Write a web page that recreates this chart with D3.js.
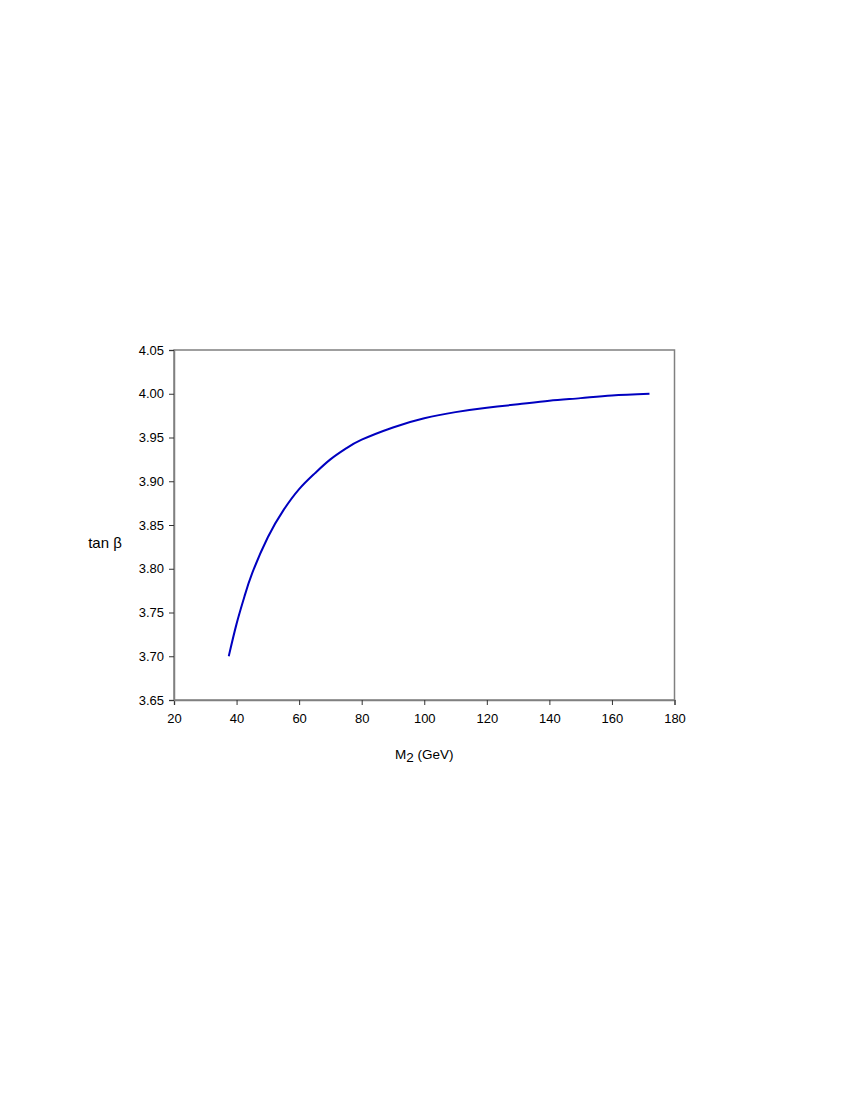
<!DOCTYPE html>
<html>
<head>
<meta charset="utf-8">
<script src="https://cdn.jsdelivr.net/npm/d3@7"></script>
<style>
html,body{margin:0;padding:0;background:#fff;}
svg text{font-family:"Liberation Sans",Arial,sans-serif;fill:#000;}
</style>
</head>
<body>
<svg id="chart" width="850" height="1100"></svg>
<script>
const m2Values = [37.5, 40, 42.5, 45, 50, 55, 60, 65, 70, 75, 80, 90, 100, 110, 120, 130, 140, 150, 160, 172];
const tanBetaValues = [3.700, 3.737, 3.768, 3.795, 3.836, 3.867, 3.891, 3.909, 3.925, 3.9375, 3.9475, 3.9615, 3.972, 3.979, 3.984, 3.988, 3.992, 3.995, 3.998, 4.000];
const xTicks = [20, 40, 60, 80, 100, 120, 140, 160, 180];
const yTicks = [3.65, 3.70, 3.75, 3.80, 3.85, 3.90, 3.95, 4.00, 4.05];

(function () {
const svg = d3.select("#chart");
const pLeft = 174, pRight = 674.5, pTop = 350, pBottom = 700;
const x = d3.scaleLinear().domain([20, 180]).range([pLeft, pRight]);
const y = d3.scaleLinear().domain([3.65, 4.05]).range([pBottom, pTop]);
const frameColor = "#808080";

// frame
svg.append("rect").attr("x", pLeft).attr("y", pTop)
  .attr("width", pRight - pLeft).attr("height", pBottom - pTop)
  .attr("fill", "none").attr("stroke", frameColor).attr("stroke-width", 1.5);

// x axis
const xAxis = svg.append("g").attr("transform", `translate(0,${pBottom})`)
  .call(d3.axisBottom(x).tickValues(xTicks).tickFormat(d3.format("d")).tickSize(5).tickPadding(9));
// y axis
const yAxis = svg.append("g").attr("transform", `translate(${pLeft},0)`)
  .call(d3.axisLeft(y).tickValues(yTicks).tickFormat(d3.format(".2f")).tickSize(5).tickPadding(5));

[xAxis, yAxis].forEach(g => {
  g.select(".domain").attr("stroke", frameColor).attr("stroke-width", 1.5);
  g.selectAll(".tick line").attr("stroke", "#333").attr("stroke-width", 1);
  g.selectAll(".tick text").attr("font-size", "13px")
    .attr("font-family", "'Liberation Sans', Arial, sans-serif").attr("fill", "#000");
});

// curve
const data = m2Values.map((m, i) => ({m, t: tanBetaValues[i]}));
svg.append("path").datum(data)
  .attr("fill", "none").attr("stroke", "#0000c0").attr("stroke-width", 2)
  .attr("d", d3.line().x(d => x(d.m)).y(d => y(d.t)).curve(d3.curveNatural));

// y label
svg.append("text").attr("x", 105).attr("y", 548).attr("text-anchor", "middle")
  .attr("font-size", "15px").text("tan β");

// x label
const xl = svg.append("text").attr("x", 395).attr("y", 759).attr("font-size", "13.5px");
xl.append("tspan").text("M");
xl.append("tspan").attr("dy", 3).text("2");
xl.append("tspan").attr("dy", -3).text(" (GeV)");
})();
</script>
</body>
</html>
